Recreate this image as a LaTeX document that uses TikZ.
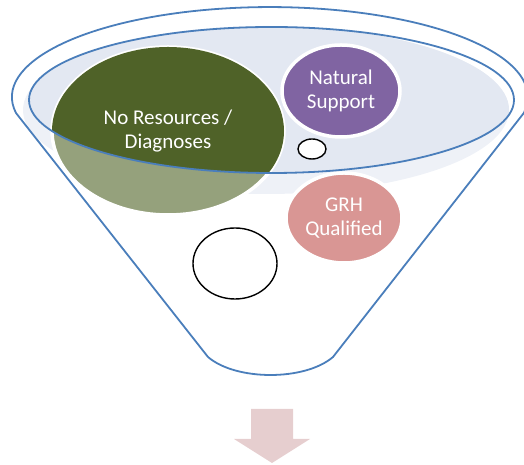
\documentclass[tikz,border=0pt]{standalone}
\usepackage{fontspec}
\setmainfont{Carlito}
\usetikzlibrary{shapes.geometric}
\definecolor{funnelblue}{HTML}{4A7EBB}
\definecolor{greendark}{HTML}{4F6228}
\definecolor{greenlight}{HTML}{95A17C}
\definecolor{natpurple}{HTML}{8064A2}
\definecolor{grhpink}{HTML}{D99694}
\definecolor{arrowpink}{HTML}{E6CECF}
\definecolor{liqdark}{HTML}{E3E8F2}
\definecolor{liqlight}{HTML}{EEF1F7}
\begin{document}
\begin{tikzpicture}[x=1pt,y=1pt,
  bubble/.style={ellipse, inner sep=0pt, draw=white, line width=3.5pt, text=white,
    align=center, font=\fontsize{21}{23.5}\selectfont},
  label/.style={inner sep=0pt, text=white, align=center, font=\fontsize{21}{23.5}\selectfont},
  ring/.style={ellipse, inner sep=0pt, draw=black, line width=1.4pt, fill=white},
  funnel/.style={draw=funnelblue, line width=1.8pt}]
\useasboundingbox (0,0) rectangle (524,465);
% liquid surface
\fill[liqlight] (266,355) ellipse [x radius=243, y radius=84];
\begin{scope}
  \clip (271.5,365) ellipse [x radius=242.5, y radius=73];
  \fill[liqdark] (266,355) ellipse [x radius=243, y radius=84];
\end{scope}
% green bubble: lighter below the rim, darker inside it
\filldraw[fill=greenlight, draw=white, line width=3.5pt] (168,334) ellipse [x radius=116, y radius=84];
\begin{scope}
  \clip (271.5,365) ellipse [x radius=242.5, y radius=73];
  \fill[greendark] (168,334) ellipse [x radius=116, y radius=84];
\end{scope}
\node[label] (nores) at (168,334) {No Resources /\\Diagnoses};
% other bubbles
\node[bubble, minimum width=118pt, minimum height=92pt, fill=natpurple]
  (natural) at (341,374) {Natural\\Support};
\node[ring, minimum width=28pt, minimum height=20pt] (small) at (312,316) {};
\node[bubble, minimum width=116pt, minimum height=90pt, fill=grhpink]
  (grh) at (344,247) {GRH\\Qualified};
\node[ring, minimum width=84pt, minimum height=71pt] (empty) at (235,201.5) {};
% funnel outlines
\draw[funnel] (271.5,365) ellipse [x radius=242.5, y radius=73];
\draw[funnel, line join=round] (16,352)
  arc[start angle=190.2, end angle=-10.2, x radius=258, y radius=90]
  -- (333,108) .. controls (305,84) and (236,84) .. (208,108) -- cycle;
% arrow
\fill[arrowpink] (251,56) -- (293,56) -- (293,26) -- (310,26) -- (272,2)
  -- (234,26) -- (251,26) -- cycle;
\end{tikzpicture}
\end{document}
